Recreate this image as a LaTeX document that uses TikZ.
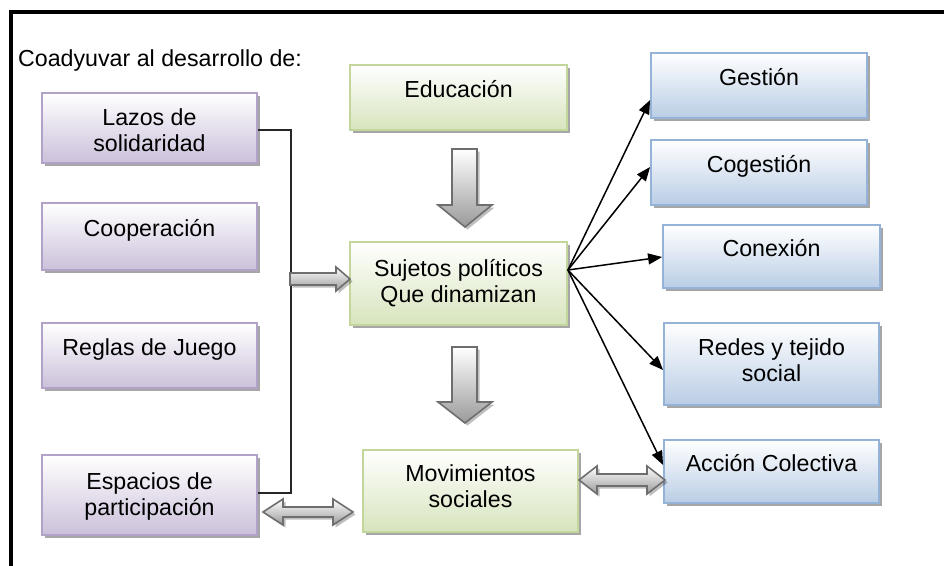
\documentclass[tikz,border=0pt]{standalone}
\usepackage{fontspec}
\setmainfont{Liberation Sans}
\usetikzlibrary{calc,shadows,arrows.meta}
\definecolor{purB}{HTML}{CBC0DA}
\definecolor{purL}{HTML}{B3A2C7}
\definecolor{grnB}{HTML}{D7E4BD}
\definecolor{grnL}{HTML}{C3D69B}
\definecolor{bluB}{HTML}{B9CDE5}
\definecolor{bluL}{HTML}{95B3D7}
\definecolor{arrB}{HTML}{9A9A9A}
\definecolor{arrL}{HTML}{6E6E6E}
\newcommand\oneln[1]{\raisebox{0pt}[0pt][0pt]{#1}}
\newcommand\twoln[3]{\raisebox{-#1pt}[0pt][0pt]{\vbox{\baselineskip=26pt\halign{\hfil##\hfil\cr#2\cr#3\cr}}}}
\tikzset{
  boxbase/.style={rectangle, line width=1.8pt, inner sep=0pt,
    drop shadow={shadow xshift=3pt, shadow yshift=-3pt, fill=black, opacity=0.35}},
  pbox/.style={boxbase, draw=purL, top color=white, bottom color=purB},
  gbox/.style={boxbase, draw=grnL, top color=white, bottom color=grnB},
  bbox/.style={boxbase, draw=bluL, top color=white, bottom color=bluB},
  blockarrow/.style={draw=arrL, line width=1.6pt, line join=miter, top color=white, bottom color=arrB,
    drop shadow={shadow xshift=2.5pt, shadow yshift=-2.5pt, fill=black, opacity=0.25}},
  thinarrow/.style={line width=1.5pt, -{Triangle[length=14pt,width=11pt]}},
  bracketline/.style={line width=1.4pt, draw=black!85},
}
\begin{document}
\begin{tikzpicture}[x=1pt,y=-1pt]
\fontsize{23.2}{26}\selectfont
\useasboundingbox (0,0) rectangle (944,565);
\clip (0,0) rectangle (944,565);
\fill[white] (0,0) rectangle (944,565);
\draw[line width=4pt] (960,12) -- (11,12) -- (11,580);

\node[anchor=base west, inner sep=0pt] (title) at (18,66) {Coadyuvar al desarrollo de:};

% left purple boxes
\node[pbox, minimum width=215pt, minimum height=70pt] (lazos) at (149.5,128) {\twoln{23}{Lazos de}{solidaridad}};
\node[pbox, minimum width=215pt, minimum height=67pt] (coop) at (149.5,236.5) {\oneln{Cooperación}};
\node[pbox, minimum width=215pt, minimum height=65pt] (reglas) at (149.5,355.5) {\oneln{Reglas de Juego}};
\node[pbox, minimum width=215pt, minimum height=80pt] (espacios) at (149.5,495) {\twoln{20}{Espacios de}{participación}};

% centre green boxes
\node[gbox, minimum width=217pt, minimum height=65pt] (edu) at (458.5,97.5) {\oneln{Educación}};
\node[gbox, minimum width=217pt, minimum height=83pt] (suj) at (458.5,283.5) {\twoln{18.5}{Sujetos políticos}{Que dinamizan}};
\node[gbox, minimum width=215pt, minimum height=82pt] (mov) at (470.5,491) {\twoln{16.5}{Movimientos}{sociales}};

% right blue boxes
\node[bbox, minimum width=216pt, minimum height=65pt] (gest) at (759,85.5) {\oneln{Gestión}};
\node[bbox, minimum width=216pt, minimum height=65pt] (coges) at (759,172.5) {\oneln{Cogestión}};
\node[bbox, minimum width=217pt, minimum height=63pt] (conex) at (771.5,256.5) {\oneln{Conexión}};
\node[bbox, minimum width=215pt, minimum height=82pt] (redes) at (771.5,364) {\twoln{17}{Redes y tejido}{social}};
\node[bbox, minimum width=215pt, minimum height=63pt] (accion) at (771.5,471.5) {\oneln{Acción Colectiva}};

% bracket from the left column
\draw[bracketline] ($(lazos.east)+(0,2)$) -- ++(33,0) |- ($(espacios.east)+(0,-2)$);

% block arrows
\draw[blockarrow] (452,149) -- (477,149) -- (477,205) -- (492,205) -- (465,227) -- (438,205) -- (452,205) -- cycle;
\draw[blockarrow] (452,347) -- (477,347) -- (477,402) -- (492,402) -- (465,423) -- (438,402) -- (452,402) -- cycle;
\draw[blockarrow] (290,273) -- (336,273) -- (336,267) -- (350,279) -- (336,291) -- (336,285) -- (290,285) -- cycle;
\draw[blockarrow] (263,512) -- (283,499) -- (283,507) -- (333,507) -- (333,499) -- (353,512) -- (333,525) -- (333,517) -- (283,517) -- (283,525) -- cycle;
\draw[blockarrow] (579,480) -- (597,466) -- (597,474) -- (647,474) -- (647,466) -- (665,480) -- (647,494) -- (647,486) -- (597,486) -- (597,494) -- cycle;

% thin arrows from Sujetos
\coordinate (src) at ($(suj.east)+(0,-13.5)$);
\draw[thinarrow] (src) -- ($(gest.west)+(0,14.5)$);
\draw[thinarrow] (src) -- ($(coges.west)+(0,-5.5)$);
\draw[thinarrow] (src) -- ($(conex.west)+(0,0.5)$);
\draw[thinarrow] (src) -- ($(redes.west)+(0,6)$);
\draw[thinarrow] (src) -- ($(accion.west)+(0,-6.5)$);
\end{tikzpicture}
\end{document}
